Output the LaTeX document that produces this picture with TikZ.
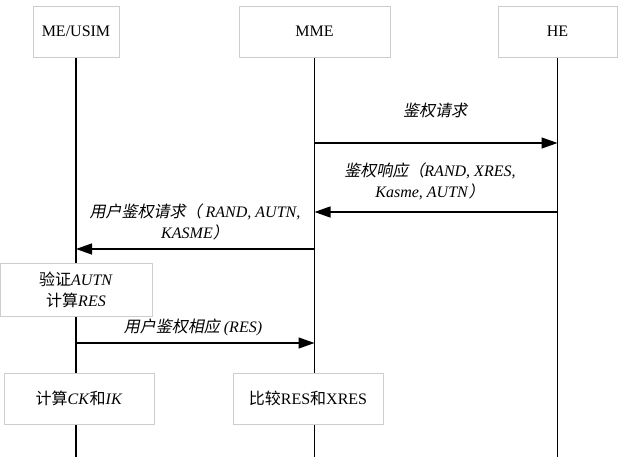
\documentclass[tikz,border=0pt]{standalone}
\usepackage{fontspec}
\setmainfont{Liberation Serif}
\newfontfamily\cjk{Noto Sans CJK SC}
\newfontfamily\cjkit[FakeSlant=0.2]{Noto Sans CJK SC}
\usetikzlibrary{positioning,arrows.meta,backgrounds}
\definecolor{boxgray}{RGB}{205,205,205}

\begin{document}
\begin{tikzpicture}[x=1pt,y=-1pt,
  box/.style={draw=boxgray,fill=white,line width=0.8pt,inner sep=0pt,
    align=center,font=\fontsize{16}{21}\selectfont},
  life/.style={line width=1.3pt},
  msg/.style={line width=1.3pt,-{Triangle[length=16pt,width=11pt]}},
  lbl/.style={inner sep=0pt,align=center,font=\fontsize{16}{21}\selectfont}]
  \useasboundingbox (0,0) rectangle (620,457);
  % participants
  \node[box,minimum width=86,minimum height=51]  (ue)  at (76,31.5)    {ME/USIM};
  \node[box,minimum width=151,minimum height=51] (mme) at (314.5,31.5) {MME};
  \node[box,minimum width=119,minimum height=51] (he)  at (557.5,31.5) {HE};
  \coordinate (bot) at (0,457);
  % message rows
  \coordinate (r1) at (0,143);
  \coordinate (r2) at (0,212);
  \coordinate (r3) at (0,249);
  \coordinate (r4) at (0,343);
  % local steps
  \node[box,minimum width=152,minimum height=53] (chk) at (76,289.5)
    {{\cjk 验证}\textit{AUTN}\\{\cjk 计算}\textit{RES}};
  \node[box,minimum width=150,minimum height=51] (ckik) at (79,398.5)
    {{\cjk 计算}\textit{CK}{\cjk 和}\textit{IK}};
  \node[box,minimum width=150,minimum height=51] (cmp) at (308,398.5)
    {{\cjk 比较}RES{\cjk 和}XRES};
  % lifelines
  \begin{scope}[on background layer]
    \foreach \p in {ue,mme,he}
      \draw[life] (\p.south) -- (\p.south |- bot);
  \end{scope}
  % messages
  \draw[msg] (mme |- r1) -- (he |- r1);
  \node[lbl] (l1) at (435,110) {\cjkit 鉴权请求};
  \draw[msg] (he |- r2) -- (mme |- r2);
  \node[lbl] (l2) at (430,181)
    {{\cjkit 鉴权响应（}\textit{RAND, XRES,}\\\textit{Kasme, AUTN}{\cjkit ）}};
  \draw[msg] (mme |- r3) -- (ue |- r3);
  \node[lbl] (l3) at (195,222)
    {{\cjkit 用户鉴权请求（}\textit{ RAND, AUTN,}\\\textit{KASME}{\cjkit ）}};
  \draw[msg] (ue |- r4) -- (mme |- r4);
  \node[lbl] (l4) at (193,327) {{\cjkit 用户鉴权相应} \textit{(RES)}};
\end{tikzpicture}
\end{document}
